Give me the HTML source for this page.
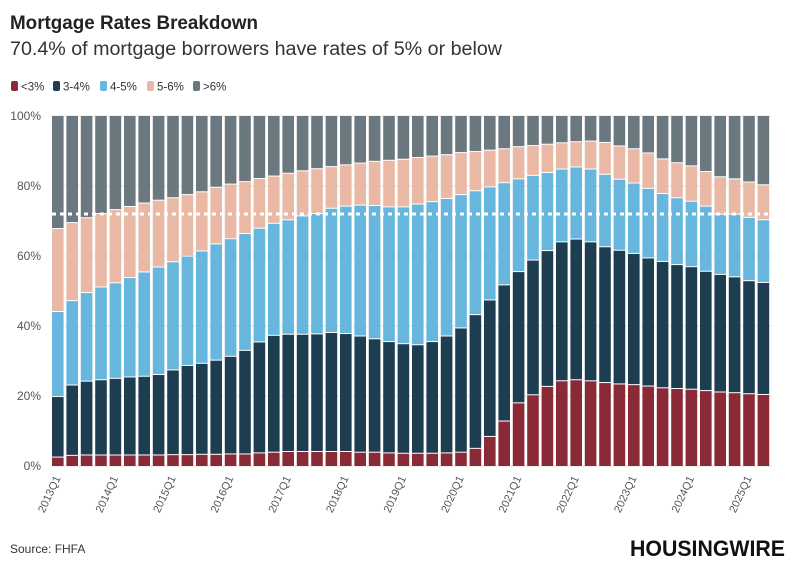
<!DOCTYPE html>
<html><head><meta charset="utf-8"><style>
body{margin:0;background:#fff;font-family:"Liberation Sans",sans-serif;}
#wrap{position:relative;width:794px;height:575px;overflow:hidden;}
</style></head><body>
<div id="wrap">
<svg id="chart" width="794" height="575">
<text x="10" y="29" font-size="19.5" font-weight="bold" fill="#222" textLength="248" lengthAdjust="spacingAndGlyphs">Mortgage Rates Breakdown</text>
<text x="10" y="55" font-size="19" fill="#333" textLength="492" lengthAdjust="spacingAndGlyphs">70.4% of mortgage borrowers have rates of 5% or below</text>
<g id="legend"></g>
<g id="grid"></g><g id="bars"></g><g id="xlabels"></g>
<line x1="52" x2="771" y1="214" y2="214" stroke="#fff" stroke-width="3" stroke-dasharray="4 4"/>
<text x="10" y="553" font-size="12" fill="#333">Source: FHFA</text>
<text x="785" y="556" font-size="22" font-weight="bold" fill="#111" text-anchor="end" textLength="155" lengthAdjust="spacingAndGlyphs">HOUSINGWIRE</text>
</svg></div>
<script>
const categories=[];for(let y=2013;y<=2025;y++)for(let q=1;q<=4;q++)if(categories.length<50)categories.push(y+'Q'+q);
const seriesNames=['<3%','3-4%','4-5%','5-6%','>6%'];
const seriesColors=['#8a2a36','#1d3e50','#66b6de','#eab9a5','#6b7880'];
const s1=[2.4,2.9,3.0,3.0,3.0,3.0,3.0,3.0,3.1,3.1,3.2,3.2,3.3,3.3,3.6,3.8,4.0,4.0,4.0,4.0,4.0,3.8,3.8,3.6,3.5,3.5,3.5,3.6,3.8,4.9,8.3,12.7,17.9,20.2,22.6,24.2,24.5,24.2,23.7,23.3,23.1,22.7,22.2,22.0,21.8,21.4,21.0,20.8,20.5,20.3];
const s2=[17.3,20.1,21.1,21.5,21.9,22.3,22.5,23.0,24.2,25.5,26.0,26.9,27.9,29.6,31.7,33.4,33.5,33.5,33.6,34.0,33.7,33.2,32.4,31.8,31.3,31.0,31.9,33.4,35.5,38.2,39.0,38.9,37.5,38.5,38.8,39.7,40.2,39.7,38.8,38.2,37.5,36.6,36.1,35.4,35.0,34.1,33.6,33.1,32.3,32.0];
const s3=[24.3,24.1,25.3,26.5,27.3,28.4,29.8,30.7,30.9,31.2,32.1,33.2,33.6,33.4,32.5,32.0,32.7,33.8,34.4,35.5,36.4,37.4,38.1,38.5,39.1,40.2,40.0,39.3,38.1,35.4,32.3,29.2,26.5,24.2,22.3,20.8,20.6,20.8,20.7,20.3,20.1,19.9,19.4,19.1,18.7,18.6,17.2,17.9,18.1,17.9];
const s4=[23.7,22.3,21.4,21.0,20.9,20.3,19.7,19.1,18.3,17.6,16.9,16.2,15.6,14.8,14.2,13.5,13.3,12.9,12.8,11.9,11.8,12.0,12.6,13.3,13.6,13.3,13.0,12.5,12.0,11.2,10.5,9.7,9.2,8.5,8.1,7.5,7.2,8.0,9.1,9.5,9.8,10.1,9.9,10.0,10.1,9.9,10.7,10.1,10.1,10.0];
const s5=[32.3,30.6,29.2,28.0,26.9,26.0,25.0,24.2,23.5,22.6,21.8,20.5,19.6,18.9,18.0,17.3,16.5,15.8,15.2,14.6,14.1,13.6,13.1,12.8,12.5,12.0,11.6,11.2,10.6,10.3,9.9,9.5,8.9,8.6,8.2,7.8,7.5,7.3,7.7,8.7,9.5,10.7,12.4,13.5,14.4,16.0,17.5,18.1,19.0,19.8];
const yTicks=[0,20,40,60,80,100];
const NS='http://www.w3.org/2000/svg';
const X0=52,PITCH=14.4,BW=11.6,Y0=466,YH=350;
const xPos=i=>X0+i*PITCH;const yPos=v=>Y0-v/100*YH;
function mk(t,a,p){const e=document.createElementNS(NS,t);for(const k in a)e.setAttribute(k,a[k]);p.appendChild(e);return e;}
const grid=document.getElementById('grid');
yTicks.forEach(t=>{
 const l=mk('line',{x1:X0,x2:772,y1:yPos(t),y2:yPos(t),stroke:'#e6e6e6'},grid);
 
 
 const tx=mk('text',{x:41,y:yPos(t)+4,'font-size':12,fill:'#555','text-anchor':'end'},grid);tx.textContent=t+'%';
 
 
});
const series=[s1,s2,s3,s4,s5];
const bars=document.getElementById('bars');
categories.forEach((c,i)=>{
 let cum=0;
 series.forEach((s,k)=>{
  const v=s[i];const top=yPos(cum+v),bot=yPos(cum);
  const r=mk('rect',{x:xPos(i),y:top,width:BW,height:Math.max(0,bot-top-(k>0?1:0)),fill:seriesColors[k]},bars);
  
  
  cum+=v;
 });
});
const xl=document.getElementById('xlabels');
categories.forEach((c,i)=>{if(i%4!==0)return;
 const x=xPos(i)+BW/2+3,y=478;
 const t=mk('text',{x:x,y:y,'font-size':11,fill:'#555','text-anchor':'end',transform:`rotate(-65 ${x} ${y})`},xl);t.textContent=c;
 
 
});
const lg=document.getElementById('legend');
const legendX=[11,53,100,147,193];
seriesNames.forEach((n,k)=>{
 const lx=legendX[k];
 const r=mk('rect',{x:lx,y:81,width:7,height:10,rx:2,fill:seriesColors[k]},lg);
 
 
 const t=mk('text',{x:lx+10,y:90.5,'font-size':11.5,fill:'#333'},lg);t.textContent=n;
 
 
});
</script>
</body></html>
